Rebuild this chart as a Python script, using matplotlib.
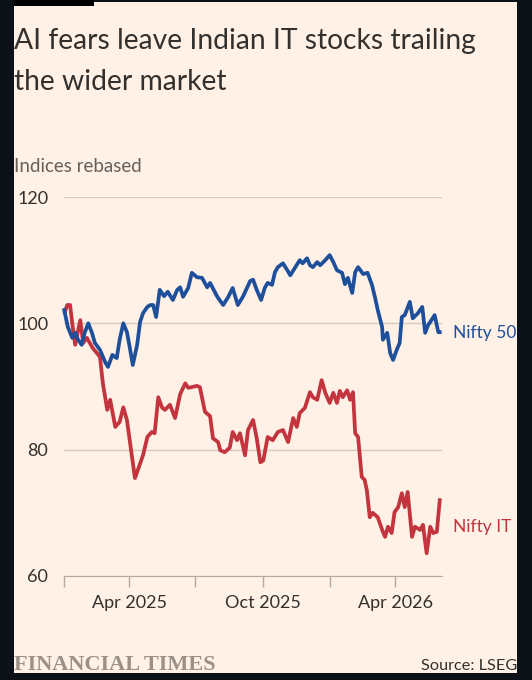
import pandas as pd
import matplotlib.pyplot as plt
from matplotlib.patches import Rectangle

plt.rcParams['font.family'] = ['Lato', 'DejaVu Sans']

# days since 1 Jan 2025, values rebased
nifty50_day = [1, 6, 12, 16, 20, 25, 29, 34, 39, 43, 50, 57, 61, 67, 73, 77, 82, 87, 91, 95,
               101, 105, 109, 115, 119, 123, 127, 132, 138, 143, 150, 156, 160, 164, 171, 176,
               183, 190, 197, 201, 211, 219, 226, 232, 239, 246, 256, 260, 265, 271, 276, 280,
               286, 290, 294, 301, 307, 311, 318, 324, 328, 334, 338, 342, 348, 352, 359, 365,
               370, 375, 382, 386, 390, 396, 400, 404, 411, 417, 423, 427, 431, 437, 438, 444,
               448, 452, 457, 461, 464, 468, 475, 479, 486, 492, 496, 500, 509, 514, 516]
nifty50 = [102.1, 99.4, 97.7, 98.5, 97.4, 96.6, 98.5, 100.0, 98.5, 96.9, 95.8, 93.9, 93.1, 95.0,
           94.5, 97.4, 100.0, 98.6, 96.1, 93.4, 96.6, 100.2, 101.6, 102.6, 102.9, 102.9, 101.0,
           105.3, 104.3, 105.0, 103.7, 105.3, 105.7, 104.2, 105.6, 108.0, 107.3, 107.2, 105.7,
           106.4, 104.2, 102.9, 104.2, 105.6, 102.9, 104.2, 106.7, 106.9, 105.3, 103.7, 105.6,
           106.4, 106.1, 108.1, 108.9, 109.5, 108.4, 107.6, 108.9, 110.0, 109.5, 110.3, 109.2,
           108.9, 109.7, 109.2, 110.0, 110.8, 109.7, 108.4, 108.0, 106.2, 107.2, 104.8, 108.1,
           108.9, 107.8, 108.0, 106.1, 104.2, 102.1, 99.4, 97.4, 98.5, 95.3, 94.2, 95.8, 96.9,
           101.0, 101.3, 103.4, 100.8, 101.6, 102.6, 98.5, 99.7, 101.3, 98.6, 98.6]

niftyit_day = [2, 5, 9, 12, 16, 23, 27, 32, 40, 50, 54, 60, 64, 71, 77, 82, 87, 94, 98, 102,
               109, 115, 121, 125, 130, 135, 139, 146, 153, 160, 167, 171, 176, 183, 187, 194,
               201, 205, 212, 215, 221, 228, 232, 238, 242, 249, 253, 260, 265, 270, 274, 280,
               287, 294, 301, 308, 315, 320, 324, 331, 338, 342, 348, 354, 359, 365, 370, 375,
               379, 383, 389, 393, 397, 400, 404, 409, 413, 416, 420, 424, 431, 437, 441, 445,
               450, 454, 459, 464, 468, 472, 478, 482, 489, 493, 498, 503, 507, 512, 516]
niftyit = [101.8, 102.9, 102.9, 100.0, 96.6, 100.5, 96.9, 97.7, 96.1, 94.7, 90.5, 86.3, 87.9,
           83.6, 84.4, 86.7, 84.7, 78.8, 75.5, 76.8, 79.1, 82.0, 82.8, 82.6, 88.3, 86.7, 86.3,
           87.1, 85.0, 88.8, 90.5, 89.8, 89.9, 90.1, 89.9, 86.0, 85.3, 81.8, 81.2, 79.9, 79.6,
           80.3, 82.8, 81.5, 82.6, 79.1, 83.1, 84.7, 81.8, 78.0, 78.3, 82.0, 81.5, 82.8, 83.1,
           81.2, 85.0, 83.6, 85.8, 86.6, 89.1, 88.3, 87.9, 91.0, 89.0, 87.4, 89.0, 87.4, 89.3,
           88.3, 89.4, 87.9, 89.1, 82.6, 82.0, 75.7, 75.2, 73.6, 69.3, 70.0, 69.3, 67.3, 66.2,
           67.8, 66.8, 70.1, 70.9, 73.1, 70.9, 73.3, 66.2, 67.8, 67.3, 68.1, 63.6, 67.8, 66.8,
           67.0, 72.0]

tick_dates = ['2025-01-01', '2025-04-01', '2025-07-01', '2025-10-01', '2026-01-01', '2026-04-01']
tick_labels = ['', 'Apr 2025', '', 'Oct 2025', '', 'Apr 2026']
y_ticks = [60, 80, 100, 120]

start = pd.Timestamp('2025-01-01')
d50 = start + pd.to_timedelta(nifty50_day, unit='D')
dit = start + pd.to_timedelta(niftyit_day, unit='D')

BLUE = '#1e4f9b'
RED = '#c3343f'
TEXT = '#33302e'
GRID = '#d6cbc1'

W, H = 532, 680
fig = plt.figure(figsize=(W / 100, H / 100), dpi=100, facecolor='#0b1117')
fig.patches.append(Rectangle((14 / W, 7 / H), 503 / W, 671 / H, transform=fig.transFigure,
                             facecolor='#fff1e5', edgecolor='none', zorder=0))
fig.patches.append(Rectangle((14 / W, 1 - 6 / H), 80 / W, 6 / H, transform=fig.transFigure,
                             facecolor='#000000', edgecolor='none', zorder=1))

ax = fig.add_axes([63.5 / W, 104 / H, 378 / W, 379 / H])
ax.set_zorder(5)
ax.set_facecolor('none')
ax.set_xlim(start, start + pd.Timedelta(days=518.4))
ax.set_ylim(60, 120)

ax.set_yticks(y_ticks)
ax.yaxis.grid(True, color=GRID, lw=1)
ax.set_axisbelow(True)
ax.tick_params(axis='y', length=0, pad=11, labelsize=13, labelcolor=TEXT)

ax.set_xticks(pd.to_datetime(tick_dates))
ax.set_xticklabels(tick_labels)
ax.tick_params(axis='x', length=8, width=1, color='#b3a99f', pad=6, labelsize=13, labelcolor=TEXT)

for s in ['top', 'right', 'left']:
    ax.spines[s].set_visible(False)
ax.spines['bottom'].set_color('#b3a99f')

ax.plot(dit, niftyit, color=RED, lw=2.7, solid_joinstyle='round', clip_on=False)
ax.plot(d50, nifty50, color=BLUE, lw=2.7, solid_joinstyle='round', clip_on=False)

label_x = start + pd.Timedelta(days=534)
ax.text(label_x, 98.5, 'Nifty 50', color=BLUE, fontsize=12.5, va='center', ha='left', clip_on=False)
ax.text(label_x, 67.8, 'Nifty IT', color=RED, fontsize=12.5, va='center', ha='left', clip_on=False)

fig.text(14 / W, 1 - 49.5 / H, 'AI fears leave Indian IT stocks trailing', fontsize=20.3,
         color=TEXT, va='baseline', ha='left')
fig.text(14 / W, 1 - 89.5 / H, 'the wider market', fontsize=20.3, color=TEXT, va='baseline', ha='left')
fig.text(14 / W, 1 - 172 / H, 'Indices rebased', fontsize=13.5, color='#66605c', va='baseline', ha='left')

fig.text(14 / W, 1 - 670 / H, 'FINANCIAL TIMES', fontsize=16, family='Liberation Serif',
         weight='bold', color='#9b9088', va='baseline', ha='left')
fig.text(517 / W, 1 - 670 / H, 'Source: LSEG', fontsize=11.7, color=TEXT, va='baseline', ha='right')

fig.savefig('out.png', dpi=100, facecolor=fig.get_facecolor())
